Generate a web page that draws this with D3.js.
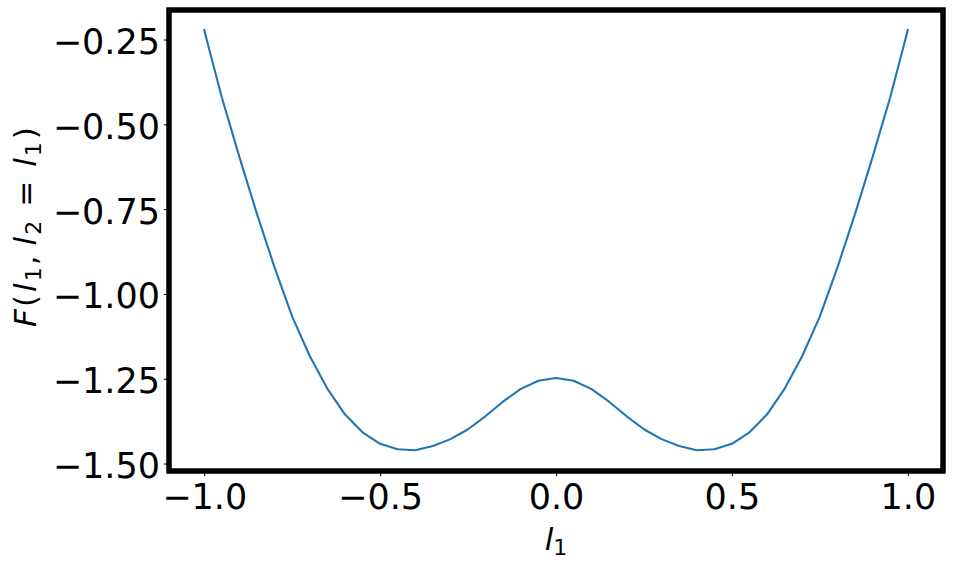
<html>
<head>
<meta charset="utf-8">
<title>F(l1, l2 = l1)</title>
<script src="https://cdnjs.cloudflare.com/ajax/libs/d3/7.8.5/d3.min.js"></script>
<style>
    body {
        padding: 0;
        margin: 0;
        background: #fff;
    }
    svg text {
        font-family: "DejaVu Sans", sans-serif;
        fill: #000;
    }
    .tick text {
        font-size: 35px;
    }
    .axislabel {
        font-size: 31px;
    }
</style>
</head>
<body>
<script>
    // l1 grid and F values
    var lValues = [-1.00, -0.95, -0.90, -0.85, -0.80, -0.75, -0.70, -0.65, -0.60, -0.55,
                   -0.50, -0.45, -0.40, -0.35, -0.30, -0.25, -0.20, -0.15, -0.10, -0.05,
                    0.00,  0.05,  0.10,  0.15,  0.20,  0.25,  0.30,  0.35,  0.40,  0.45,
                    0.50,  0.55,  0.60,  0.65,  0.70,  0.75,  0.80,  0.85,  0.90,  0.95, 1.00];
    var fValues = [-0.222, -0.420, -0.596, -0.764, -0.922, -1.066, -1.183, -1.279, -1.355, -1.408,
                   -1.442, -1.458, -1.461, -1.448, -1.428, -1.399, -1.360, -1.317, -1.280, -1.256,
                   -1.248, -1.256, -1.280, -1.317, -1.360, -1.399, -1.428, -1.448, -1.461, -1.458,
                   -1.442, -1.408, -1.355, -1.279, -1.183, -1.066, -0.922, -0.764, -0.596, -0.420, -0.222];
    var xTicks = [-1.0, -0.5, 0.0, 0.5, 1.0];
    var yTicks = [-1.50, -1.25, -1.00, -0.75, -0.50, -0.25];

    var w = 953, h = 568;
    var mLeft = 169, mRight = 943, mTop = 10, mBottom = 471;

    var svg = d3.select("body").append("svg")
        .attr("width", w)
        .attr("height", h);

    var x = d3.scaleLinear().domain([-1.1, 1.1]).range([mLeft, mRight]);
    var y = d3.scaleLinear().domain([-1.522, -0.163]).range([mBottom, mTop]);

    // the curve
    var line = d3.line()
        .x(function(d, i) { return x(lValues[i]); })
        .y(function(d) { return y(d); });

    svg.append("path")
        .datum(fValues)
        .attr("d", line)
        .attr("fill", "none")
        .attr("stroke", "#1f77b4")
        .attr("stroke-width", 2.1)
        .attr("stroke-linejoin", "round")
        .attr("stroke-linecap", "square");

    // axes
    var gx = svg.append("g")
        .attr("transform", "translate(0," + mBottom + ")")
        .call(d3.axisBottom(x).tickValues(xTicks).tickSize(5).tickFormat(d3.format(".1f")));
    gx.select(".domain").remove();
    gx.selectAll(".tick line").attr("stroke-width", 1.1);
    gx.selectAll(".tick text").attr("y", 38).attr("dy", 0);

    var gy = svg.append("g")
        .attr("transform", "translate(" + mLeft + ",0)")
        .call(d3.axisLeft(y).tickValues(yTicks).tickSize(5).tickFormat(d3.format(".2f")));
    gy.select(".domain").remove();
    gy.selectAll(".tick line").attr("stroke-width", 1.1);
    gy.selectAll(".tick text").attr("x", -9).attr("dy", 14);
    gx.attr("font-family", null).attr("font-size", null);
    gy.attr("font-family", null).attr("font-size", null);

    // thick frame
    svg.append("rect")
        .attr("x", mLeft)
        .attr("y", mTop)
        .attr("width", mRight - mLeft)
        .attr("height", mBottom - mTop)
        .attr("fill", "none")
        .attr("stroke", "#000")
        .attr("stroke-width", 5.5);

    // x label
    var xl = svg.append("text")
        .attr("class", "axislabel")
        .attr("x", 556)
        .attr("y", 550)
        .attr("text-anchor", "middle");
    xl.append("tspan").attr("font-style", "italic").text("l");
    xl.append("tspan").attr("font-size", "22px").attr("dy", 5).text("1");

    // y label, spaced out like mathtext
    var yl = svg.append("text")
        .attr("class", "axislabel")
        .attr("transform", "translate(36,227) rotate(-90)")
        .attr("text-anchor", "middle");
    yl.append("tspan").attr("font-style", "italic").text("F");
    yl.append("tspan").attr("dx", 2).text("(");
    yl.append("tspan").attr("font-style", "italic").attr("dx", 3).text("l");
    yl.append("tspan").attr("font-size", "22px").attr("dx", 2).attr("dy", 5).text("1");
    yl.append("tspan").attr("dx", 2).attr("dy", -5).text(",");
    yl.append("tspan").attr("font-style", "italic").attr("dx", 10).text("l");
    yl.append("tspan").attr("font-size", "22px").attr("dx", 2).attr("dy", 5).text("2");
    yl.append("tspan").attr("dx", 14).attr("dy", -5).text("=");
    yl.append("tspan").attr("font-style", "italic").attr("dx", 14).text("l");
    yl.append("tspan").attr("font-size", "22px").attr("dx", 2).attr("dy", 5).text("1");
    yl.append("tspan").attr("dx", 3).attr("dy", -5).text(")");
</script>
</body>
</html>
